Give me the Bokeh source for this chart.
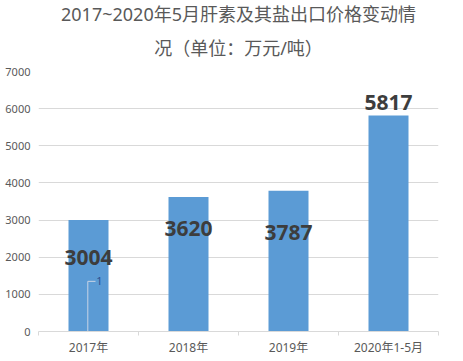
from bokeh.plotting import figure
from bokeh.models import Range1d, FixedTicker, ColumnDataSource, Title
from bokeh.embed import file_html
from bokeh.resources import INLINE
from bokeh.core.properties import value

categories = ["2017年", "2018年", "2019年", "2020年1-5月"]
prices = [3004, 3620, 3787, 5817]
label_y = [1990, 2770, 2660, 6170]
y_ticks = [0, 1000, 2000, 3000, 4000, 5000, 6000, 7000]
title_lines = ["2017~2020年5月肝素及其盐出口价格变动情", "况（单位：万元/吨）"]

FONT = "'Noto Sans', 'Noto Sans CJK SC'"
xs = [i + 0.5 for i in range(len(categories))]

p = figure(width=455, height=358, output_backend="svg", toolbar_location=None,
           x_range=Range1d(0, len(categories)), y_range=Range1d(0, y_ticks[-1]),
           min_border_left=38, min_border_right=17, min_border_top=71, min_border_bottom=23)
p.outline_line_color = None
p.background_fill_color = "white"
p.border_fill_color = "white"

# title: inner line added first, outer line last
for i, line in enumerate(reversed(title_lines)):
    t = Title(text=line, align="center", text_font=FONT, text_font_size="18px",
              text_font_style="normal", text_color="#595959", offset=-7,
              standoff=(23 if i == 0 else -7))
    p.add_layout(t, "above")

src = ColumnDataSource(dict(x=xs, top=prices, ly=label_y, txt=[str(v) for v in prices]))
p.vbar(x="x", top="top", width=0.4, bottom=0, source=src, color="#5b9bd5", line_color=None)
p.text(x="x", y="ly", text="txt", source=src, text_align="center", text_baseline="middle",
       text_font=value("Noto Sans"), text_font_style="bold", text_font_size="21px",
       text_color="#3d3d3d")

# small leader line "1" on first bar
p.segment(x0=[xs[0] - 0.007, xs[0] - 0.007], y0=[0, 1350], x1=[xs[0] - 0.007, xs[0] + 0.07], y1=[1350, 1350],
          line_color="#c8d4e6", line_width=1)
p.text(x=[xs[0] + 0.11], y=[1350], text=["1"], text_align="center", text_baseline="middle",
       text_font=value("Noto Sans"), text_font_size="11px", text_color="#2f4f8f")

# y axis
p.yaxis.ticker = FixedTicker(ticks=y_ticks)
p.yaxis.axis_line_color = None
p.yaxis.major_tick_line_color = None
p.yaxis.major_tick_out = 0
p.yaxis.major_tick_in = 0
p.yaxis.minor_tick_line_color = None
p.yaxis.major_label_standoff = 8
p.yaxis.major_label_text_font = "Noto Sans"
p.yaxis.major_label_text_font_size = "11px"
p.yaxis.major_label_text_color = "#595959"

p.ygrid.ticker = FixedTicker(ticks=y_ticks)
p.ygrid.grid_line_color = "#d9d9d9"
p.xgrid.grid_line_color = None

# x axis
p.xaxis.ticker = FixedTicker(ticks=xs, minor_ticks=list(range(len(categories) + 1)))
p.xaxis.major_label_overrides = {x: c for x, c in zip(xs, categories)}
p.xaxis.axis_line_color = "#d9d9d9"
p.xaxis.major_tick_line_color = None
p.xaxis.major_tick_out = 0
p.xaxis.major_tick_in = 0
p.xaxis.minor_tick_line_color = "#d9d9d9"
p.xaxis.minor_tick_out = 4
p.xaxis.minor_tick_in = 0
p.xaxis.major_label_standoff = 3
p.xaxis.major_label_text_font = FONT
p.xaxis.major_label_text_font_size = "12px"
p.xaxis.major_label_text_color = "#595959"

open("out.html", "w").write(file_html(p, INLINE))
